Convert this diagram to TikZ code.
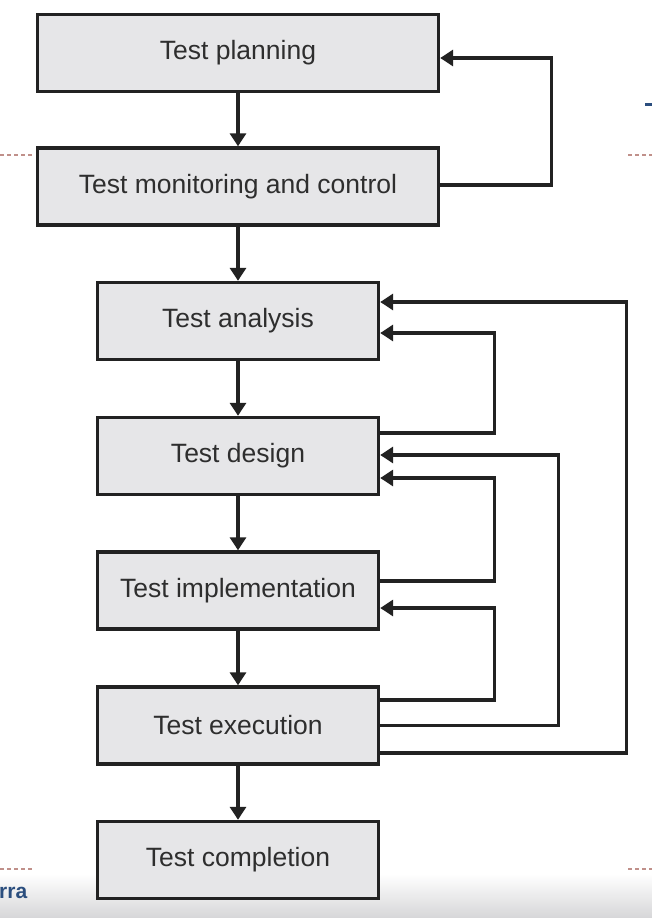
\documentclass[tikz,border=0pt]{standalone}
\usepackage{fontspec}
\setmainfont{Liberation Sans}
\usepackage{tikz}
\usetikzlibrary{positioning,arrows.meta,calc}
\definecolor{ink}{HTML}{222222}
\definecolor{boxbg}{HTML}{E6E6E8}
\definecolor{txt}{HTML}{2E2E2E}
\definecolor{slideblue}{HTML}{2B4E7E}
\definecolor{dashred}{HTML}{C0908A}
\definecolor{barbg}{HTML}{D6D6D8}
\tikzset{
  stg/.style={rectangle,draw=ink,fill=boxbg,line width=3.4pt,text=txt,
    font=\fontsize{26.5}{30}\selectfont,minimum height=77pt,inner sep=0pt},
  stgw/.style={stg,minimum width=401pt},
  stgn/.style={stg,minimum width=281pt},
  ar/.style={-{Triangle[length=13pt,width=16pt]},line width=3.2pt,draw=ink},
  edge/.style={dashred,line width=1.2pt,dash pattern=on 4pt off 3pt},
}
\begin{document}
\begin{tikzpicture}[x=1pt,y=-1pt]
  \useasboundingbox[fill=white] (0,0) rectangle (652,918);
  % slide background
  \shade[top color=white,bottom color=barbg] (0,874) rectangle (652,918);
  \draw[edge] (0,155) -- (32,155);
  \draw[edge] (628,155) -- (652,155);
  \draw[edge] (0,869) -- (34,869);
  \draw[edge] (628,869) -- (652,869);
  \fill[slideblue] (645,103) rectangle (652,106);
  \node[anchor=west,inner sep=0pt,text=slideblue,font=\fontsize{21}{23}\selectfont\bfseries] (logo) at (-1,893) {rra};
  % stages
  \node[stgw] (plan) at (238,53) {Test planning};
  \node[stgw] (monit) at (238,186.5) {Test monitoring and control};
  \node[stgn] (anal) at (238,321) {Test analysis};
  \node[stgn] (desig) at (238,456) {Test design};
  \node[stgn] (impl) at (238,590.5) {Test implementation};
  \node[stgn] (exec) at (238,725.5) {Test execution};
  \node[stgn] (compl) at (238,860) {Test completion};
  % main flow
  \draw[ar] (plan) -- (monit);
  \draw[ar] (monit) -- (anal);
  \draw[ar] (anal) -- (desig);
  \draw[ar] (desig) -- (impl);
  \draw[ar] (impl) -- (exec);
  \draw[ar] (exec) -- (compl);
  % feedback loops
  \draw[ar] ([yshift=1.5pt]monit.east) -- ++(111,0) |- ([yshift=-5pt]plan.east);
  \draw[ar] ([yshift=23pt]desig.east) -- ++(114.5,0) |- ([yshift=-12pt]anal.east);
  \draw[ar] ([yshift=9.5pt]impl.east) -- ++(114.5,0) |- ([yshift=-22pt]desig.east);
  \draw[ar] ([yshift=25.5pt]exec.east) -- ++(114.5,0) |- ([yshift=-17.5pt]impl.east);
  \draw[ar] (exec.east) -- ++(178.5,0) |- ([yshift=1pt]desig.east);
  \draw[ar] ([yshift=-27.5pt]exec.east) -- ++(246.5,0) |- ([yshift=19pt]anal.east);
\end{tikzpicture}
\end{document}
